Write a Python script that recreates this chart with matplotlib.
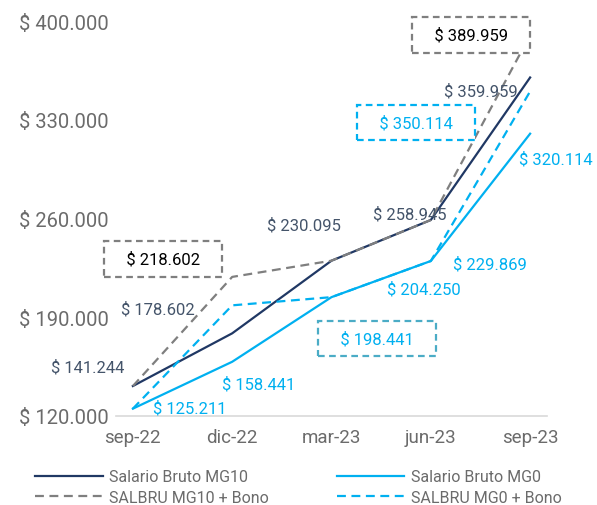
import matplotlib
matplotlib.use('Agg')
import matplotlib.pyplot as plt
from matplotlib.ticker import FuncFormatter

plt.rcParams['font.family'] = ['Roboto', 'DejaVu Sans']

periods = ['sep-22', 'dic-22', 'mar-23', 'jun-23', 'sep-23']
mg10 = [141244, 178602, 230095, 258945, 359959]
mg0 = [125211, 158441, 204250, 229869, 320114]
mg10_bono = [141244, 218602, 230095, 258945, 389959]
mg0_bono = [125211, 198441, 204250, 229869, 350114]
y_ticks = [120000, 190000, 260000, 330000, 400000]

NAVY = '#203864'
NAVY_TXT = '#44546A'
BLUE = '#00B0F0'
GRAY = '#7F7F7F'


def money(v, pos=None):
    return '$ ' + f'{v:,.0f}'.replace(',', '.')


fig = plt.figure(figsize=(5.97, 5.06), dpi=100)
ax = fig.add_axes([116 / 597, 1 - 417 / 506, (547 - 116) / 597, (417 - 22) / 506])
x = list(range(len(periods)))

ax.plot(x, mg10, color=NAVY, lw=1.6, label='Salario Bruto MG10')
ax.plot(x, mg10_bono, color=GRAY, lw=1.6, ls=(0, (4, 2.5)), label='SALBRU MG10 + Bono')
ax.plot(x, mg0, color=BLUE, lw=1.6, label='Salario Bruto MG0')
ax.plot(x, mg0_bono, color=BLUE, lw=1.6, ls=(0, (4, 2.5)), label='SALBRU MG0 + Bono')

ax.set_xlim(-0.17, 4.17)
ax.set_ylim(120000, 400000)
ax.set_yticks(y_ticks)
ax.yaxis.set_major_formatter(FuncFormatter(money))
ax.set_xticks(x)
ax.set_xticklabels(periods)
ax.tick_params(axis='y', length=0, labelsize=14.5, labelcolor='#6B6B6B', pad=5)
ax.tick_params(axis='x', length=0, labelsize=13.5, labelcolor='#6B6B6B', pad=9)
for s in ['top', 'right', 'left']:
    ax.spines[s].set_visible(False)
ax.spines['bottom'].set_color('#D9D9D9')
ax.spines['bottom'].set_linewidth(1.2)

# data labels, offsets in pixels (dx, dy) from each point
k = 0.72
mg10_off = [(-45, 19), (-74, 25), (-28, 36), (-21, 6), (-49, -13)]
mg0_off = [(57, 1), (26, -22), (92, 8), (59, -3), (26, -25)]
for i in x:
    ax.annotate(money(mg10[i]), (i, mg10[i]), xytext=(mg10_off[i][0] * k, mg10_off[i][1] * k),
                textcoords='offset points', ha='center', va='center',
                fontsize=12, color=NAVY_TXT)
    ax.annotate(money(mg0[i]), (i, mg0[i]), xytext=(mg0_off[i][0] * k, mg0_off[i][1] * k),
                textcoords='offset points', ha='center', va='center',
                fontsize=12, color=BLUE)

# boxed labels for the bonus series
boxes = [
    (1, mg10_bono[1], (-69, 18), 'black', GRAY),
    (4, mg10_bono[4], (-59, 0), 'black', GRAY),
    (4, mg0_bono[4], (-114, -31), BLUE, BLUE),
    (1, mg0_bono[1], (145, -33), BLUE, '#4BACC6'),
]
for xi, yv, off, tc, bc in boxes:
    ax.annotate('   ' + money(yv) + '   ', (xi, yv), xytext=(off[0] * k, off[1] * k),
                textcoords='offset points', ha='center', va='center',
                fontsize=12, color=tc, annotation_clip=False,
                bbox=dict(boxstyle='square,pad=0.6', fc='white', ec=bc,
                          lw=1.6, ls=(0, (3, 2))))

fig.legend(loc='lower center', bbox_to_anchor=(0.5, -0.028), ncol=2, frameon=False,
           fontsize=11.5, handlelength=4.2, handletextpad=0.4, columnspacing=4.3,
           labelspacing=0.35, labelcolor='#6B6B6B')

fig.savefig('out.png', dpi=100, facecolor='white')
